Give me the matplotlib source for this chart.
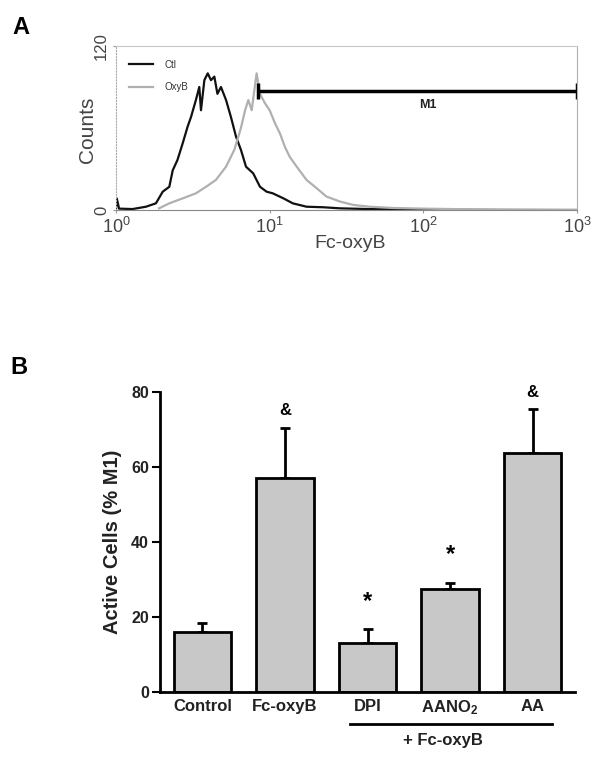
import numpy as np
import matplotlib
matplotlib.use("Agg")
import matplotlib.pyplot as plt
from matplotlib.lines import Line2D

plt.rcParams['font.family'] = ['Liberation Sans', 'DejaVu Sans']
plt.rcParams['mathtext.default'] = 'regular'

# ---- Panel A: histograma (posicion en log10 de la fluorescencia, counts)
ctl_log = [0.0, 0.005, 0.02, 0.108, 0.195, 0.26, 0.304, 0.347, 0.369, 0.40, 0.434, 0.466,
           0.488, 0.52, 0.542, 0.553, 0.575, 0.597, 0.618, 0.64, 0.66, 0.683, 0.716,
           0.748, 0.781, 0.813, 0.846, 0.893, 0.937, 0.98, 1.02, 1.09, 1.15, 1.24,
           1.35, 1.46, 1.65, 1.8, 2.0, 2.5, 3.0]
ctl_counts = [1, 8.5, 1, 0.7, 2.4, 4.9, 13.4, 17, 29, 36.6, 48.8, 61,
              68, 80.5, 90, 73, 95, 100, 95, 97.6, 85, 90, 80.5,
              68, 53.7, 44, 31.7, 26.8, 17, 13.4, 12.2, 8.5, 4.9, 2.4,
              2, 1.2, 0.7, 0.5, 0.3, 0, 0]

oxy_log = [0.28, 0.347, 0.434, 0.52, 0.586, 0.65, 0.716, 0.77, 0.813, 0.84, 0.861,
           0.883, 0.915, 0.937, 0.97, 1.0, 1.035, 1.067, 1.1, 1.13, 1.176, 1.24,
           1.306, 1.37, 1.46, 1.544, 1.65, 1.8, 2.0, 2.3, 2.6, 3.0]
oxy_counts = [1.2, 4.9, 8.5, 12.2, 17, 22, 31.7, 44, 60, 73, 80.5,
              73, 100, 85, 78, 73, 63.4, 56, 46, 39, 31.7, 22,
              15.9, 9.8, 6.1, 3.7, 2.4, 1.5, 1, 0.5, 0.3, 0]

m1_range = [8.4, 1000]
m1_level = 87

# ---- Panel B: barras
groups = ["Control", "Fc-oxyB", "DPI", "AANO$_2$", "AA"]
active = [16.0, 56.9, 13.1, 27.3, 63.6]
sem = [2.2, 13.5, 3.5, 1.8, 11.8]
marks = ["", "&", "*", "*", "&"]

fig = plt.figure(figsize=(6.01, 7.61), dpi=100)
W, H = 601, 761

# ================= A =================
axA = fig.add_axes([116 / W, 1 - 210 / H, 461 / W, 164 / H])
axA.plot(10 ** np.array(ctl_log), ctl_counts, color="#111111", lw=1.6, label="Ctl")
axA.plot(10 ** np.array(oxy_log), oxy_counts, color="#b0b0b0", lw=1.6, label="OxyB")
axA.set_xscale("log")
axA.set_xlim(1, 1000)
axA.set_ylim(0, 120)

# marcador M1
axA.plot(m1_range, [m1_level, m1_level], color="black", lw=2.5, solid_capstyle="butt")
axA.plot(m1_range, [m1_level, m1_level], ls="none", marker="|", ms=11, mew=2.5, color="black")
axA.text(107, 77, "M1", fontsize=9, fontweight="bold", ha="center", va="center", color="#222222")

axA.set_xticks([1, 10, 100, 1000])
axA.set_xticklabels(["$10^0$", "$10^1$", "$10^2$", "$10^3$"], fontsize=13, color="#444444")
axA.xaxis.set_minor_locator(matplotlib.ticker.NullLocator())
axA.set_yticks([0, 120])
axA.set_yticklabels(["0", "120"], rotation=90, va="center", fontsize=12, color="#444444")
axA.tick_params(axis="both", length=2, color="#999999", pad=3)

axA.spines["top"].set_color("#c8c8c8")
axA.spines["right"].set_color("#b0b0b0")
axA.spines["left"].set_color("#aaaaaa")
axA.spines["left"].set_linestyle(":")
axA.spines["bottom"].set_color("#888888")

leg = axA.legend(loc="upper left", bbox_to_anchor=(0.01, 0.97), frameon=False, fontsize=7,
                 handlelength=2.4, handletextpad=1.2, labelspacing=1.3)
for t in leg.get_texts():
    t.set_color("#333333")

fig.text(88 / W, 1 - 130 / H, "Counts", rotation=90, ha="center", va="center",
         fontsize=15, color="#444444")
fig.text(350 / W, 1 - 243 / H, "Fc-oxyB", ha="center", va="center", fontsize=14, color="#444444")
fig.text(21 / W, 1 - 27 / H, "A", ha="center", va="center", fontsize=17, fontweight="bold")

# ================= B =================
axB = fig.add_axes([160 / W, 1 - 691.7 / H, 415 / W, 300 / H])
x = np.arange(len(groups))
axB.bar(x, active, width=0.70, color="#c8c8c8", edgecolor="black", linewidth=2, zorder=2)
axB.errorbar(x, active, yerr=[np.zeros(len(sem)), sem], fmt="none", ecolor="black",
             elinewidth=2, capsize=3.5, capthick=2, zorder=1)
for xi, v, e, m in zip(x, active, sem, marks):
    if m == "&":
        axB.text(xi, v + e + 2.5, m, ha="center", va="bottom", fontsize=12, fontweight="bold")
    elif m == "*":
        axB.text(xi, v + e + 4.5, m, ha="center", va="bottom", fontsize=17, fontweight="bold")

axB.set_xlim(-0.515, 4.515)
axB.set_ylim(0, 80)
axB.set_yticks([0, 20, 40, 60, 80])
axB.set_xticks(x)
axB.set_xticklabels(groups, fontsize=12, fontweight="bold", color="#222222")
axB.tick_params(axis="x", length=0, pad=5)
axB.tick_params(axis="y", length=6, width=1.5, labelsize=11.5, pad=2)
for t in axB.get_yticklabels():
    t.set_fontweight("bold")
    t.set_color("#222222")
axB.spines["top"].set_visible(False)
axB.spines["right"].set_visible(False)
axB.spines["left"].set_linewidth(2)
axB.spines["bottom"].set_linewidth(2)
axB.spines["left"].set_bounds(0, 80)

fig.text(112 / W, 1 - 541.7 / H, "Active Cells (% M1)", rotation=90, ha="center", va="center",
         fontsize=14.5, fontweight="bold", color="#222222")
fig.add_artist(Line2D([350 / W, 551.7 / W], [1 - 724 / H, 1 - 724 / H], color="black", lw=2))
fig.text(443 / W, 1 - 740 / H, "+ Fc-oxyB", ha="center", va="center", fontsize=12,
         fontweight="bold", color="#222222")
fig.text(19 / W, 1 - 368 / H, "B", ha="center", va="center", fontsize=17, fontweight="bold")

plt.savefig("out.png", dpi=100)
